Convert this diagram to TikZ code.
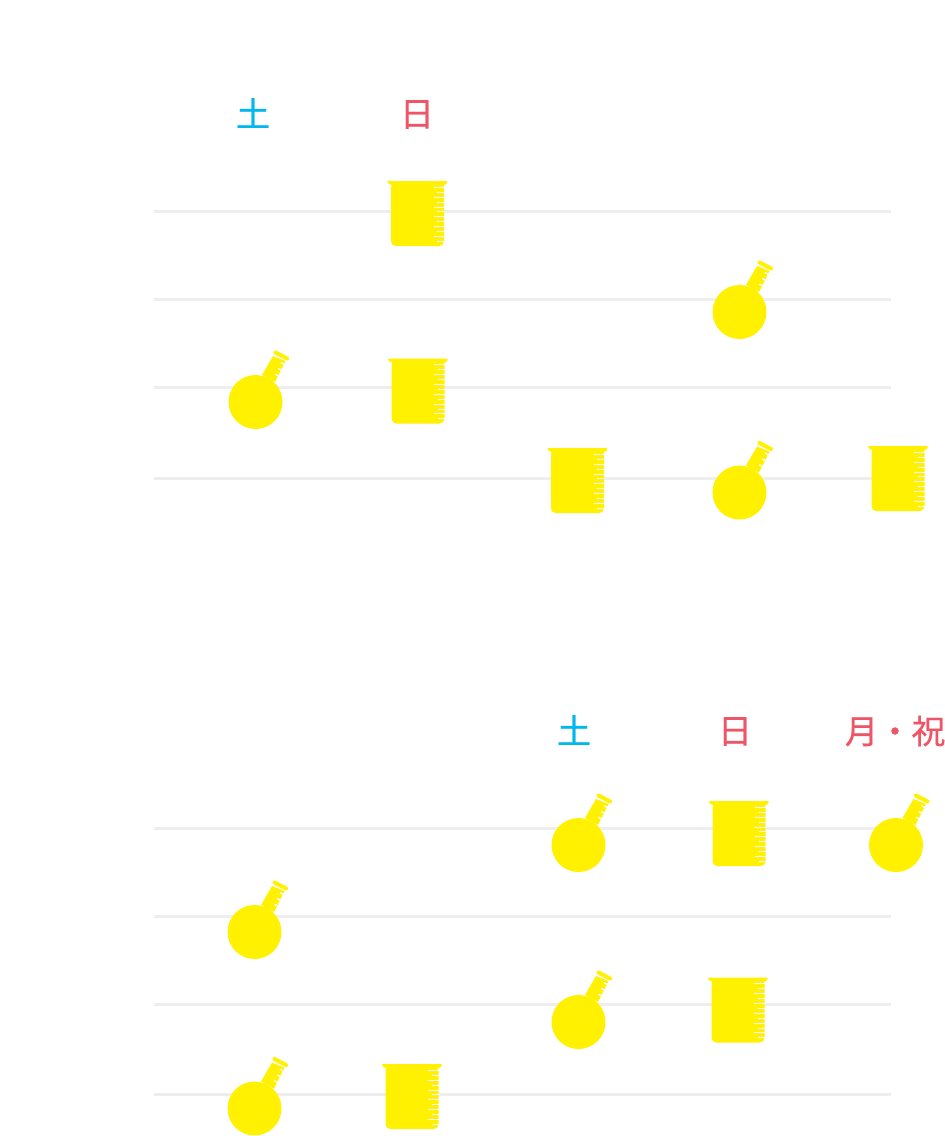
\documentclass[tikz,border=0pt]{standalone}
\usepackage{fontspec}
\newfontfamily\cjk[FakeBold=0.6]{Noto Sans CJK JP}
\definecolor{labblue}{HTML}{00B7EE}
\definecolor{labred}{HTML}{EE5566}
\definecolor{labyellow}{HTML}{FFF100}
\definecolor{labrule}{HTML}{EEEEEE}
\tikzset{>=latex,%
  dayrule/.style={draw=labrule,line width=2.25pt},
  daylabel/.style={inner sep=0pt,font=\cjk\fontsize{25.5}{25.5}\selectfont},
  beaker/.pic={
    \fill[labyellow,rounded corners=1.5] (-31,-32.5) -- (30.5,-32.5) -- (28,-28) -- (-27,-28) -- cycle;
    \fill[labyellow,rounded corners=3.5] (-26.5,-31) rectangle (26.5,32.5);
    \foreach \t in {0,2,...,10} {\fill[white] (16,-26.6+\t*4.9) rectangle (26.6,-25.8+\t*4.9);}
    \foreach \t in {1,3,...,11} {\fill[white] (19.5,-26.6+\t*4.9) rectangle (26.6,-25.8+\t*4.9);}
  },
  flask/.pic={
    \fill[labyellow] (0,0) circle (27);
    \fill[labyellow] (6.5,-27) -- (17.5,-46) -- (30,-41) -- (19.5,-20) -- cycle;
    \draw[labyellow,line width=3pt,line cap=round] (20,-49.5) -- (31.5,-43.5);
    \foreach \t in {0,1,2} {\draw[white,line width=1pt] (32-\t*2.8,-36.1+\t*5.8) -- ++(-6.5,-3.2);}
  }
}
\begin{document}
\begin{tikzpicture}[x=0.75pt,y=-0.75pt]
  \useasboundingbox[fill=white] (0,0) rectangle (945,1136);
  \foreach \y in {211,299,387,478,828,916,1004,1094} {\draw[dayrule] (153.5,\y) -- (890.5,\y);}
  \node[daylabel,text=labblue] (satone) at (253,113) {土};
  \node[daylabel,text=labred] (sunone) at (417,114.5) {日};
  \node[daylabel,text=labblue] (sattwo) at (574,730) {土};
  \node[daylabel,text=labred] (suntwo) at (735,731.5) {日};
  \node[daylabel,text=labred,font=\cjk\fontsize{25}{25}\selectfont] (holiday) at (895,731) {月・祝};
  \foreach \x/\y in {417.5/213.5,418/391,577.5/480.5,898/478.5,739/833.5,738/1010,412/1096.5}
    {\pic at (\x,\y) {beaker};}
  \foreach \x/\y in {255.5/402,739.5/312,739.5/492.5,578.5/845,896/845,254.5/932,578.5/1022,254.5/1108.5}
    {\pic at (\x,\y) {flask};}
\end{tikzpicture}
\end{document}
